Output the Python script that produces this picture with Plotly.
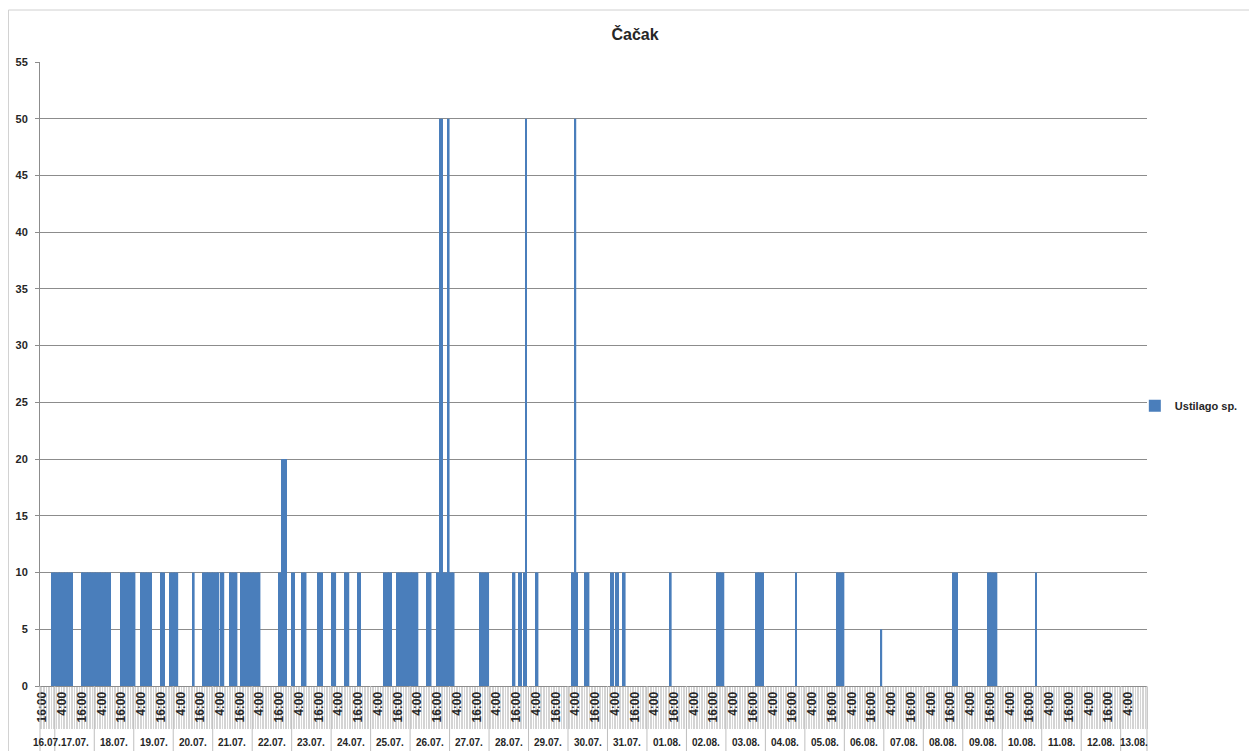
import pandas as pd
import plotly.graph_objects as go

FMT = "%d.%m. %H:%M"
TITLE = "Čačak"
SERIES = "Ustilago sp."

# hours with spores found; every other hour of the period is 0
sample_time = [
    "16.07. 22:00", "16.07. 23:00",
    "17.07. 00:00", "17.07. 01:00", "17.07. 02:00", "17.07. 03:00", "17.07. 04:00", "17.07. 05:00",
    "17.07. 06:00", "17.07. 07:00", "17.07. 08:00", "17.07. 09:00", "17.07. 10:00",
    "17.07. 16:00", "17.07. 17:00", "17.07. 18:00", "17.07. 19:00", "17.07. 20:00", "17.07. 21:00",
    "17.07. 22:00", "17.07. 23:00",
    "18.07. 00:00", "18.07. 01:00", "18.07. 02:00", "18.07. 03:00", "18.07. 04:00", "18.07. 05:00",
    "18.07. 06:00", "18.07. 07:00", "18.07. 08:00", "18.07. 09:00",
    "18.07. 16:00", "18.07. 17:00", "18.07. 18:00", "18.07. 19:00", "18.07. 20:00", "18.07. 21:00",
    "18.07. 22:00", "18.07. 23:00",
    "19.07. 00:00", "19.07. 04:00", "19.07. 05:00", "19.07. 06:00", "19.07. 07:00", "19.07. 08:00",
    "19.07. 09:00", "19.07. 10:00", "19.07. 16:00", "19.07. 17:00", "19.07. 18:00", "19.07. 22:00",
    "19.07. 23:00",
    "20.07. 00:00", "20.07. 01:00", "20.07. 02:00", "20.07. 12:00", "20.07. 18:00", "20.07. 19:00",
    "20.07. 20:00", "20.07. 21:00", "20.07. 22:00", "20.07. 23:00",
    "21.07. 00:00", "21.07. 01:00", "21.07. 02:00", "21.07. 03:00", "21.07. 05:00", "21.07. 06:00",
    "21.07. 10:00", "21.07. 11:00", "21.07. 12:00", "21.07. 13:00", "21.07. 14:00", "21.07. 17:00",
    "21.07. 18:00", "21.07. 19:00", "21.07. 20:00", "21.07. 21:00", "21.07. 22:00", "21.07. 23:00",
    "22.07. 00:00", "22.07. 01:00", "22.07. 02:00", "22.07. 03:00", "22.07. 04:00",
    "22.07. 16:00", "22.07. 17:00", "22.07. 18:00", "22.07. 19:00", "22.07. 20:00",
    "23.07. 00:00", "23.07. 01:00", "23.07. 06:00", "23.07. 07:00", "23.07. 08:00",
    "23.07. 16:00", "23.07. 17:00", "23.07. 18:00",
    "24.07. 00:00", "24.07. 01:00", "24.07. 02:00", "24.07. 08:00", "24.07. 09:00", "24.07. 10:00",
    "24.07. 16:00", "24.07. 17:00",
    "25.07. 08:00", "25.07. 09:00", "25.07. 10:00", "25.07. 11:00", "25.07. 12:00",
    "25.07. 16:00", "25.07. 17:00", "25.07. 18:00", "25.07. 19:00", "25.07. 20:00", "25.07. 21:00",
    "25.07. 22:00", "25.07. 23:00",
    "26.07. 00:00", "26.07. 01:00", "26.07. 02:00", "26.07. 03:00", "26.07. 04:00",
    "26.07. 10:00", "26.07. 11:00", "26.07. 12:00",
    "26.07. 16:00", "26.07. 17:00", "26.07. 18:00", "26.07. 19:00", "26.07. 20:00", "26.07. 21:00",
    "26.07. 22:00", "26.07. 23:00",
    "27.07. 00:00", "27.07. 01:00", "27.07. 02:00", "27.07. 18:00", "27.07. 19:00", "27.07. 20:00",
    "27.07. 21:00", "27.07. 22:00", "27.07. 23:00",
    "28.07. 14:00", "28.07. 15:00", "28.07. 18:00", "28.07. 19:00", "28.07. 21:00", "28.07. 22:00",
    "29.07. 04:00", "29.07. 05:00",
    "30.07. 02:00", "30.07. 03:00", "30.07. 04:00", "30.07. 05:00", "30.07. 10:00", "30.07. 11:00",
    "30.07. 12:00",
    "31.07. 02:00", "31.07. 03:00", "31.07. 05:00", "31.07. 06:00", "31.07. 09:00", "31.07. 10:00",
    "01.08. 14:00",
    "02.08. 18:00", "02.08. 19:00", "02.08. 20:00", "02.08. 21:00", "02.08. 22:00",
    "03.08. 18:00", "03.08. 19:00", "03.08. 20:00", "03.08. 21:00", "03.08. 22:00",
    "04.08. 18:00",
    "05.08. 19:00", "05.08. 20:00", "05.08. 21:00", "05.08. 22:00", "05.08. 23:00",
    "06.08. 22:00",
    "08.08. 18:00", "08.08. 19:00", "08.08. 20:00",
    "09.08. 15:00", "09.08. 16:00", "09.08. 17:00", "09.08. 18:00", "09.08. 19:00", "09.08. 20:00",
    "10.08. 20:00",
]
spores = [
    10, 10,
    10, 10, 10, 10, 10, 10,
    10, 10, 10, 10, 10,
    10, 10, 10, 10, 10, 10,
    10, 10,
    10, 10, 10, 10, 10, 10,
    10, 10, 10, 10,
    10, 10, 10, 10, 10, 10,
    10, 10,
    10, 10, 10, 10, 10, 10,
    10, 10, 10, 10, 10, 10,
    10,
    10, 10, 10, 10, 10, 10,
    10, 10, 10, 10,
    10, 10, 10, 10, 10, 10,
    10, 10, 10, 10, 10, 10,
    10, 10, 10, 10, 10, 10,
    10, 10, 10, 10, 10,
    10, 10, 20, 20, 20,
    10, 10, 10, 10, 10,
    10, 10, 10,
    10, 10, 10, 10, 10, 10,
    10, 10,
    10, 10, 10, 10, 10,
    10, 10, 10, 10, 10, 10,
    10, 10,
    10, 10, 10, 10, 10,
    10, 10, 10,
    10, 10, 50, 50, 10, 10,
    10, 50,
    10, 10, 10, 10, 10, 10,
    10, 10, 10,
    10, 10, 10, 10, 10, 50,
    10, 10,
    10, 10, 50, 10, 10, 10,
    10,
    10, 10, 10, 10, 10, 10,
    10,
    10, 10, 10, 10, 10,
    10, 10, 10, 10, 10,
    10,
    10, 10, 10, 10, 10,
    5,
    10, 10, 10,
    10, 10, 10, 10, 10, 10,
    10,
]

# axis period and labelled hours
period_start = "16.07. 14:30"
period_end = "13.08. 15:30"
first_label = "16.07. 16:00"

BAR = "#4A7EBB"
GRID = "#8C8C8C"
TXT = "#262626"
FONT = "Liberation Sans"

# page body adds an 8px offset, so the figure is drawn 8px smaller
W, H = 1249, 743

times = pd.to_datetime(sample_time, format=FMT)
x0 = pd.to_datetime(period_start, format=FMT)
x1 = pd.to_datetime(period_end, format=FMT)
label_ticks = pd.date_range(pd.to_datetime(first_label, format=FMT), x1, freq="12h")
tick_text = [f"{t.hour}:00" for t in label_ticks]
days = pd.date_range(x0.normalize(), x1.normalize(), freq="D")
half = pd.Timedelta(minutes=30)

fig = go.Figure(go.Bar(
    x=times, y=spores, name=SERIES, width=3600000,
    marker=dict(color=BAR, line=dict(width=0)),
    showlegend=True,
))

# day separators in the category area + date labels
shapes = []
annotations = []
for d in days:
    lo = max(d - half, x0)
    hi = min(d + pd.Timedelta(hours=24) - half, x1)
    if d - half > x0:
        shapes.append(dict(type="line", xref="x", yref="paper", x0=d - half, x1=d - half,
                           y0=0, y1=-0.11, line=dict(color="#BFBFBF", width=1)))
    annotations.append(dict(
        x=lo + (hi - lo) / 2, y=-0.0913, xref="x", yref="paper",
        text=d.strftime("%d.%m."), showarrow=False, yanchor="middle",
        font=dict(size=10, color=TXT, family=FONT, weight="bold"),
    ))
for px_end in (0, 1):
    shapes.append(dict(type="line", xref="paper", yref="paper", x0=px_end, x1=px_end,
                       y0=0, y1=-0.11, line=dict(color="#BFBFBF", width=1)))
# chart frame
shapes.append(dict(type="rect", xref="paper", yref="paper", x0=-0.0285, x1=1.093,
                   y0=-0.12, y1=1.0833, line=dict(color="#D0D0D0", width=1)))

fig.update_layout(
    width=W, height=H,
    margin=dict(l=32, r=110, t=54, b=65, autoexpand=False),
    paper_bgcolor="white", plot_bgcolor="white",
    font=dict(family=FONT, color=TXT),
    title=dict(text=TITLE, x=627 / W, y=1 - 26 / H, xanchor="center", yanchor="middle",
               font=dict(size=16, color=TXT, family=FONT, weight="bold")),
    legend=dict(x=0.989, y=0.449, xanchor="left", yanchor="middle",
                bgcolor="rgba(0,0,0,0)", font=dict(size=11, color=TXT, family=FONT, weight="bold")),
    shapes=shapes, annotations=annotations,
    xaxis=dict(
        type="date", range=[x0, x1],
        tickvals=label_ticks, ticktext=tick_text, tickangle=-90,
        tickfont=dict(size=12, color=TXT, family=FONT, weight="bold"),
        ticks="", showgrid=False, showline=True, linecolor=GRID, linewidth=1,
        minor=dict(ticks="outside", ticklen=42, tickwidth=1, tickcolor="#D4D4D4",
                   dtick=3600000, tick0=x0, showgrid=False),
        zeroline=False,
    ),
    yaxis=dict(
        range=[0, 55], dtick=5, showgrid=True, gridcolor=GRID, gridwidth=1,
        showline=True, linecolor=GRID, ticks="outside", ticklen=4, tickcolor=GRID,
        ticklabelstandoff=5,
        tickfont=dict(size=11, color=TXT, family=FONT, weight="bold"),
        zeroline=False,
    ),
)

fig.write_html("out.html")
